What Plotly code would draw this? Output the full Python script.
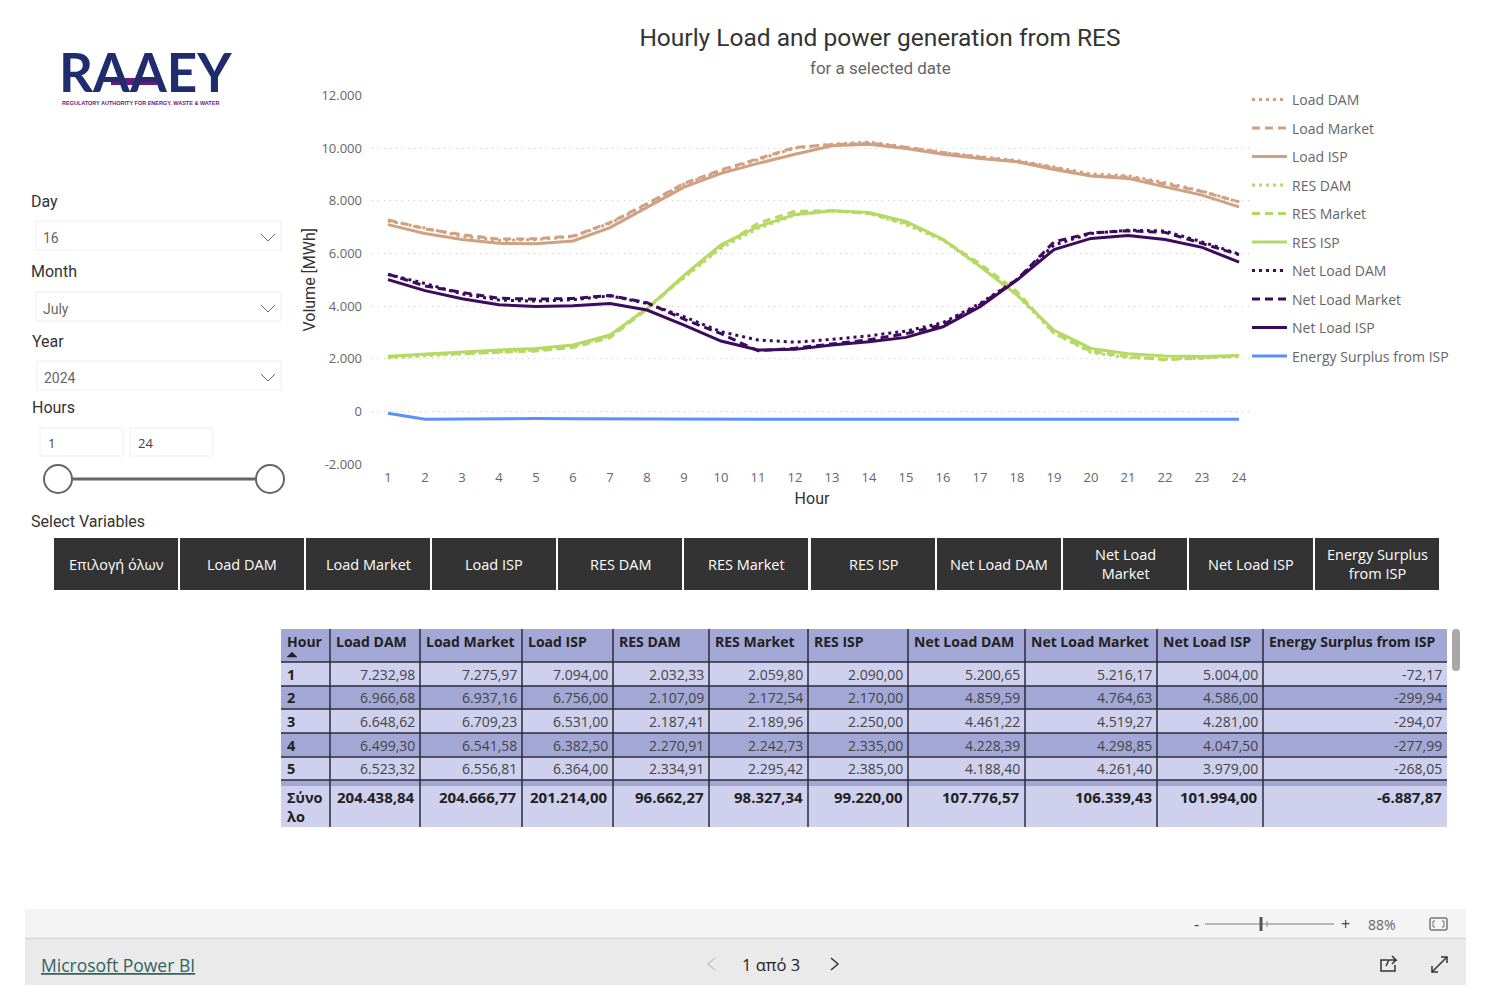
import plotly.graph_objects as go

# the page keeps the browser's 8px body margin, so the figure is that much smaller
W = 1472
H = 990
OFFSET = 8

hours = list(range(1, 25))

load_dam = [7232.98, 6966.68, 6648.62, 6499.30, 6523.32, 6640, 7150, 7860, 8630, 9130, 9560, 10000,
            10150, 10230, 10040, 9830, 9680, 9530, 9280, 9020, 8950, 8690, 8370, 7950]
load_market = [7275.97, 6937.16, 6709.23, 6541.58, 6556.81, 6660, 7170, 7890, 8660, 9170, 9600, 10030,
               10130, 10190, 10030, 9830, 9650, 9500, 9250, 8950, 8900, 8640, 8350, 7960]
load_isp = [7094, 6756, 6531, 6382.5, 6364, 6475, 6980, 7750, 8520, 9040, 9420, 9770,
            10090, 10150, 9990, 9770, 9610, 9480, 9190, 8940, 8850, 8530, 8215, 7770]
res_dam = [2032.33, 2107.09, 2187.41, 2270.91, 2334.91, 2480, 2860, 3950, 5080, 6200, 6950, 7460,
           7620, 7520, 7100, 6500, 5500, 4420, 2970, 2240, 2040, 1990, 2020, 2100]
res_market = [2059.80, 2172.54, 2189.96, 2242.73, 2295.42, 2430, 2800, 3880, 5120, 6250, 7150, 7600,
              7620, 7520, 7150, 6520, 5600, 4550, 2980, 2280, 2080, 1960, 2030, 2100]
res_isp = [2090, 2170, 2250, 2335, 2385, 2520, 2900, 3900, 5170, 6330, 7020, 7480,
           7620, 7560, 7220, 6540, 5510, 4420, 3080, 2390, 2185, 2105, 2085, 2125]
net_dam = [5200.65, 4859.59, 4461.22, 4228.39, 4188.40, 4240, 4390, 4100, 3595, 3025, 2710, 2630,
           2735, 2870, 3050, 3370, 4100, 5010, 6320, 6760, 6885, 6850, 6440, 5975]
net_market = [5216.17, 4764.63, 4519.27, 4298.85, 4261.40, 4290, 4400, 4130, 3500, 2950, 2300, 2400,
              2560, 2720, 2950, 3300, 4050, 5010, 6440, 6780, 6860, 6800, 6380, 5950]
net_isp = [5004, 4586, 4281, 4047.5, 3979, 4010, 4100, 3850, 3280, 2670, 2330, 2355,
           2520, 2645, 2810, 3215, 3975, 4985, 6150, 6570, 6685, 6530, 6230, 5670]
surplus = [-72.17, -299.94, -294.07, -277.99, -268.05, -285, -292, -295, -297, -298, -300, -300,
           -300, -300, -300, -300, -300, -300, -300, -300, -300, -300, -300, -300]

series_names = ["Load DAM", "Load Market", "Load ISP", "RES DAM", "RES Market", "RES ISP",
                "Net Load DAM", "Net Load Market", "Net Load ISP", "Energy Surplus from ISP"]
series_values = [load_dam, load_market, load_isp, res_dam, res_market, res_isp,
                 net_dam, net_market, net_isp, surplus]
series_colors = ["#d0a083", "#d0a083", "#d0a083", "#b4da63", "#b4da63", "#b4da63",
                 "#3d0b5e", "#3d0b5e", "#3d0b5e", "#5b8ffb"]
series_dash = ["3px,4px", "8px,5px", "solid"] * 3 + ["solid"]

totals = [204438.84, 204666.77, 201214.00, 96662.27, 98327.34, 99220.00,
          107776.57, 106339.43, 101994.00, -6887.87]

y_ticks = [-2000, 0, 2000, 4000, 6000, 8000, 10000, 12000]
y_tick_text = ["-2.000", "0", "2.000", "4.000", "6.000", "8.000", "10.000", "12.000"]

button_labels = ["Επιλογή όλων", "Load DAM", "Load Market", "Load ISP", "RES DAM", "RES Market", "RES ISP",
                 "Net Load DAM", "Net Load<br>Market", "Net Load ISP", "Energy Surplus<br>from ISP"]

BODY = "Open Sans"
DIN = "Roboto"


def px(x):
    return (x - OFFSET) / W


def py(y):
    return 1 - (y - OFFSET) / H


shapes = []
notes = []


def text(x, y, s, size=13, color="#333333", anchor="left", font=BODY):
    # annotations sit about 2px inside their anchor
    nudge = {"left": -2, "right": 2, "center": 0}[anchor]
    notes.append(dict(x=px(x + nudge), y=py(y), xref="paper", yref="paper", text=s, showarrow=False,
                      xanchor=anchor, yanchor="middle", align=anchor,
                      font=dict(family=font, size=size, color=color)))


def rect(x0, y0, x1, y1, fill=None, line=None, width=1):
    shapes.append(dict(type="rect", xref="paper", yref="paper", x0=px(x0), x1=px(x1), y0=py(y0), y1=py(y1),
                       fillcolor=fill if fill else "rgba(0,0,0,0)",
                       line=dict(color=line if line else "rgba(0,0,0,0)", width=width if line else 0)))


def path(points, color="#666666", width=1, closed=False, fill=None):
    d = "M " + " L ".join(f"{px(a):.5f},{py(b):.5f}" for a, b in points)
    if closed:
        d += " Z"
    s = dict(type="path", xref="paper", yref="paper", path=d, line=dict(color=color, width=width))
    if fill:
        s["fillcolor"] = fill
    shapes.append(s)


def rounded(x0, y0, x1, y1, r, fill=None, line=None, width=1):
    d = (f"M {px(x0 + r):.5f},{py(y0):.5f} L {px(x1 - r):.5f},{py(y0):.5f} "
         f"Q {px(x1):.5f},{py(y0):.5f} {px(x1):.5f},{py(y0 + r):.5f} L {px(x1):.5f},{py(y1 - r):.5f} "
         f"Q {px(x1):.5f},{py(y1):.5f} {px(x1 - r):.5f},{py(y1):.5f} L {px(x0 + r):.5f},{py(y1):.5f} "
         f"Q {px(x0):.5f},{py(y1):.5f} {px(x0):.5f},{py(y1 - r):.5f} L {px(x0):.5f},{py(y0 + r):.5f} "
         f"Q {px(x0):.5f},{py(y0):.5f} {px(x0 + r):.5f},{py(y0):.5f} Z")
    shapes.append(dict(type="path", xref="paper", yref="paper", path=d,
                       fillcolor=fill if fill else "rgba(0,0,0,0)",
                       line=dict(color=line if line else "rgba(0,0,0,0)", width=width if line else 0)))


def circle(cx, cy, r, fill="#ffffff", line="#666666", width=2):
    shapes.append(dict(type="circle", xref="paper", yref="paper", x0=px(cx - r), x1=px(cx + r),
                       y0=py(cy - r), y1=py(cy + r), fillcolor=fill, line=dict(color=line, width=width)))


fig = go.Figure()
for name, vals, color, dash in zip(series_names, series_values, series_colors, series_dash):
    fig.add_trace(go.Scatter(x=hours, y=vals, name=name, mode="lines", legendgroup=name,
                             line=dict(color=color, width=3, dash=dash)))

# logo
text(59, 72, "<b>RAAEY</b>", size=53, color="#1f2c6e", font="Lato")
rect(111, 78, 157, 85, fill="#6b1a80")
text(62, 103, "<b>REGULATORY AUTHORITY FOR ENERGY, WASTE &amp; WATER</b>", size=5.5, color="#6b1a80",
     font="Liberation Sans")

# slicers on the left
text(31, 201, "Day", size=16, font=DIN)
text(31, 272, "Month", size=16, font=DIN)
text(32, 341, "Year", size=16, font=DIN)
text(32, 408, "Hours", size=16, font=DIN)
text(31, 521, "Select Variables", size=16, font=DIN)
for top, left, label in [(221, 36, "16"), (292, 36, "July"), (361, 37, "2024")]:
    rect(left, top, 281, top + 29, line="#eeeeee")
    text(left + 7, top + 17, label, size=14, color="#666666", font=DIN)
    path([(261, top + 13), (268, top + 20), (275, top + 13)], color="#666666")
rect(40, 428, 123, 456, line="#eeeeee")
rect(130, 428, 213, 456, line="#eeeeee")
text(48, 443, "1", size=13, color="#444444")
text(138, 443, "24", size=13, color="#444444")
path([(58, 479), (270, 479)], color="#666666", width=3)
circle(58, 479, 14)
circle(270, 479, 14)

# buttons
button_left = [54, 180, 306, 432, 558, 684, 811, 937, 1063, 1189, 1315]
for left, label in zip(button_left, button_labels):
    rect(left, 538, left + 124, 590, fill="#333333")
    text(left + 62, 564, label, size=14.5, color="#ffffff", anchor="center")

# table
col_edges = [281, 330, 420, 522, 613, 709, 808, 908, 1025, 1157, 1263, 1447]
row_edges = [662, 686, 709, 733, 757, 780]
LIGHT = "#ced0ed"
DARK = "#a3a7d6"
LINE = "#2b2b3a"
rect(281, 629, 1447, 662, fill=DARK)
for i in range(5):
    rect(281, row_edges[i], 1447, row_edges[i + 1], fill=DARK if i % 2 else LIGHT)
rect(281, 780, 1447, 786, fill=DARK)
rect(281, 786, 1447, 827, fill=LIGHT)
for y in row_edges:
    path([(281, y), (1447, y)], color=LINE, width=1.5)
for x in col_edges[1:-1]:
    path([(x, 629), (x, 827)], color=LINE, width=1.5)

text(col_edges[0] + 6, 641, "<b>Hour</b>", size=14, color="#222222")
path([(287, 657), (292, 652), (297, 657)], color="#222222", width=0.5, closed=True, fill="#222222")
for j, name in enumerate(series_names):
    text(col_edges[j + 1] + 6, 641, f"<b>{name}</b>", size=14, color="#222222")


def fmt(v):
    return f"{v:,.2f}".replace(",", "#").replace(".", ",").replace("#", ".")


for i in range(5):
    cy = (row_edges[i] + row_edges[i + 1]) / 2
    text(col_edges[0] + 6, cy, f"<b>{hours[i]}</b>", size=14.5, color="#222222")
    for j, vals in enumerate(series_values):
        text(col_edges[j + 2] - 5, cy, fmt(vals[i]), size=14, color="#444444", anchor="right")
text(col_edges[0] + 6, 807, "<b>Σύνο<br>λο</b>", size=14.5, color="#222222")
for j, v in enumerate(totals):
    text(col_edges[j + 2] - 5, 797, f"<b>{fmt(v)}</b>", size=15, color="#222222", anchor="right")

# scrollbar of the table
rounded(1452, 629, 1460, 671, 4, fill="#a8a8a8")

# footer bars
rect(25, 909, 1466, 938, fill="#f4f4f4")
rect(25, 938, 1466, 985, fill="#eaeaea")
path([(25, 938.5), (1466, 938.5)], color="#d8d8d8", width=1.5)
text(41, 965, "<u>Microsoft Power BI</u>", size=17.5, color="#31635f")
text(771, 964, "1 από 3", size=16.5, color="#222222", anchor="center")
path([(715, 958), (708, 964), (715, 970)], color="#c4c4c4", width=1.5)
path([(831, 958), (838, 964), (831, 970)], color="#333333", width=1.5)
text(1196, 924, "-", size=16, color="#444444", anchor="center")
path([(1205, 924), (1334, 924)], color="#a6a6a6", width=1.5)
path([(1261, 917), (1261, 931)], color="#555555", width=3)
path([(1267, 921), (1267, 927)], color="#888888", width=1)
text(1345, 924, "+", size=16, color="#444444", anchor="center")
text(1382, 924, "88%", size=14, color="#666666", anchor="center")
rounded(1430, 918, 1447, 930, 2, line="#777777", width=1.5)
path([(1435, 921), (1433, 921), (1433, 927), (1435, 927)], color="#777777")
path([(1442, 921), (1444, 921), (1444, 927), (1442, 927)], color="#777777")
# share
path([(1388, 960), (1381, 960), (1381, 971), (1395, 971), (1395, 965)], color="#333333", width=1.5)
path([(1386, 966), (1389, 960), (1396, 960), (1392, 956), (1396, 960), (1392, 964)], color="#333333", width=1.5)
# expand
path([(1432, 972), (1447, 957)], color="#333333", width=1.5)
path([(1441, 957), (1447, 957), (1447, 963)], color="#333333", width=1.5)
path([(1432, 966), (1432, 972), (1438, 972)], color="#333333", width=1.5)

fig.update_layout(
    width=W, height=H, autosize=False,
    margin=dict(l=0, r=0, t=0, b=0, autoexpand=False),
    paper_bgcolor="#ffffff", plot_bgcolor="#ffffff",
    font=dict(family=BODY, color="#666666"),
    title=dict(text="Hourly Load and power generation from RES", x=px(880), xanchor="center",
               y=py(37), yanchor="middle", xref="paper", yref="paper", automargin=False,
               font=dict(family=DIN, size=24.5, color="#333333")),
    xaxis=dict(domain=[px(372), px(1252)], range=[0.568, 24.35], tickmode="array", tickvals=hours,
               showgrid=False, zeroline=False, showline=False, ticks="", ticklabelstandoff=4,
               tickfont=dict(size=13, color="#666666"),
               title=dict(text="Hour", standoff=7, font=dict(family=DIN, size=16, color="#333333"))),
    yaxis=dict(domain=[py(464), py(95.5)], range=[-2000, 12000], tickmode="array", tickvals=y_ticks,
               ticktext=y_tick_text, showgrid=True, gridcolor="#c8c8c8", griddash="1px,5px", gridwidth=1,
               zeroline=False, showline=False, ticks="", ticklabelstandoff=9,
               tickfont=dict(size=13, color="#666666"),
               title=dict(text="Volume [MWh]", standoff=1, font=dict(family=DIN, size=16, color="#333333"))),
    legend=dict(x=px(1247), y=py(84), xanchor="left", yanchor="top", tracegroupgap=7.3, itemwidth=35,
                font=dict(size=14, color="#666666"), bgcolor="rgba(0,0,0,0)"),
    shapes=shapes,
    annotations=notes + [dict(x=px(880), y=py(68), xref="paper", yref="paper", text="for a selected date",
                              showarrow=False, xanchor="center", yanchor="middle",
                              font=dict(family=DIN, size=17, color="#666666"))],
)

fig.write_html("out.html")
